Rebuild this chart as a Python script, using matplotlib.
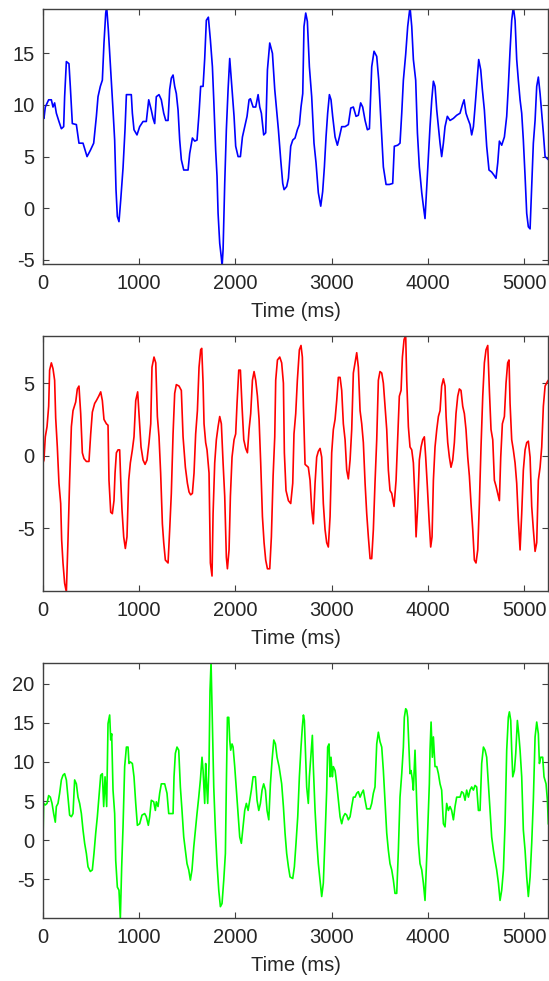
import matplotlib
matplotlib.use('Agg')
import matplotlib.pyplot as plt
import numpy as np

# --- data (time in ms, signal value) ---
blue_t = [0, 10, 24, 59, 87, 104, 121, 139, 166, 191, 215, 225, 243, 270, 284, 305,
          347, 374, 416, 458, 492, 527, 555, 572, 596, 617, 634, 652, 662, 679, 704,
          728, 745, 759, 773, 790, 808, 832, 853, 867, 894, 918, 929, 946, 977, 1005,
          1040, 1074, 1099, 1126, 1144, 1161, 1178, 1206, 1230, 1255, 1276, 1300, 1317,
          1334, 1352, 1369, 1386, 1404, 1421, 1438, 1463, 1508, 1525, 1553, 1577, 1601,
          1622, 1639, 1664, 1681, 1698, 1719, 1740, 1761, 1775, 1795, 1809, 1820, 1837,
          1854, 1862, 1872, 1889, 1906, 1924, 1941, 1965, 1986, 2003, 2028, 2052, 2073,
          2097, 2121, 2142, 2156, 2184, 2211, 2236, 2253, 2270, 2294, 2315, 2333, 2357,
          2385, 2409, 2447,
          2471, 2492, 2506, 2533, 2551, 2575, 2596, 2620, 2644, 2665, 2682, 2700, 2713,
          2731, 2748, 2769, 2793, 2817, 2838, 2862, 2887, 2907, 2925, 2942, 2959, 2977,
          2994, 3011, 3036, 3060, 3081, 3105, 3140, 3174, 3199, 3226, 3254, 3278, 3302,
          3323, 3348, 3372, 3393, 3417, 3441, 3469, 3490, 3514, 3538, 3566, 3600, 3635,
          3652, 3687, 3711, 3729, 3746, 3770, 3791, 3815, 3833, 3850, 3874, 3892, 3912,
          3937, 3954, 3971, 3989, 4006, 4023, 4041, 4058, 4075, 4093, 4110, 4127, 4144,
          4162, 4179, 4203, 4231, 4266, 4300, 4335, 4359, 4377, 4397, 4415, 4439, 4456,
          4474, 4491, 4508, 4529, 4550, 4567, 4588, 4612, 4636, 4664, 4688, 4709, 4727,
          4744, 4768, 4796, 4820, 4837, 4855, 4872, 4889, 4907, 4924, 4941, 4959, 4976,
          4993, 5011, 5028, 5045, 5063, 5080, 5097, 5115, 5132, 5149, 5167, 5184, 5201,
          5219, 5253]
blue_v = [9.2, 8.7, 9.8, 10.5, 10.5, 9.8, 10.2, 9.2, 8.4, 7.7, 7.9, 10.8, 14.2, 14.0, 11.8,
          8.2, 8.1, 6.3, 6.3, 5.0, 5.6, 6.3, 8.9, 10.8, 11.8, 12.4, 16.0, 18.9, 19.5, 17.3,
          13.4, 9.5, 6.6, 1.8, -0.8, -1.3, 0.8, 3.9, 7.7, 11.0, 11.0, 11.0, 9.2, 7.6, 7.1,
          7.9, 8.4, 8.4, 10.5, 9.5, 8.7, 8.2, 10.8, 11.0, 10.5, 9.2, 8.5, 8.5, 11.5, 12.6,
          12.9, 11.8, 11.1, 9.5, 6.6, 4.7, 3.7, 3.7, 5.3, 6.8, 6.5, 6.6, 9.2, 11.8, 11.8,
          14.5, 18.2, 18.5, 16.3, 13.7, 10.5, 5.6, 3.1, -0.5, -3.4, -4.8, -5.6, -4.0, 2.4,
          7.6, 11.5, 14.5, 11.5, 8.9, 6.0, 5.0, 5.0, 6.9, 7.9, 8.9, 10.5, 10.6, 9.8, 9.8,
          11.0, 9.8, 9.2, 7.1, 7.3, 13.4, 16.0, 15.0, 11.5, 7.6,
          4.7, 2.4, 1.8, 2.1, 2.9, 6.0, 6.6, 6.8, 7.6, 8.1, 9.8, 11.1, 17.6, 18.9, 18.1,
          13.7, 10.8, 6.3, 4.4, 1.5, 0.2, 1.6, 4.0, 6.9, 9.2, 11.0, 10.5, 8.9, 6.9, 6.1,
          6.9, 7.9, 7.9, 8.1, 9.7, 9.8, 8.9, 9.0, 10.2, 9.8, 8.5, 7.6, 7.7, 13.7, 15.2,
          14.7, 12.4, 8.2, 4.0, 2.3, 2.3, 2.4, 6.0, 6.1, 6.3, 9.2, 12.4, 14.9, 17.6, 19.5,
          17.6, 14.4, 12.4, 7.3, 4.0, 1.5, 0.2, -1.0, 2.1, 5.0, 7.9, 10.5, 12.3, 11.8, 9.5,
          7.9, 6.3, 5.0, 6.3, 7.9, 8.9, 8.5, 8.7, 9.0, 9.2, 10.0, 10.5, 9.2, 8.7, 8.1, 7.1,
          7.9, 9.8, 11.9, 14.4, 13.4, 11.5, 9.5, 6.0, 3.7, 3.5, 3.2, 2.9, 4.4, 6.5, 6.1,
          6.9, 8.9, 11.8, 15.3, 18.2, 19.5, 18.2, 14.4, 12.4, 10.5, 9.2, 6.6, 3.1, -0.5,
          -1.8, -2.0, 2.1, 6.3, 8.5, 11.8, 12.7, 11.1, 9.2, 7.3, 5.0, 4.7]

red_t = [0, 10, 24, 42, 59, 69, 87, 104, 121, 132, 149, 166, 184, 194, 208, 225, 243,
         260, 277, 295, 312, 340, 357, 374, 392, 409, 426, 451, 478, 496, 513, 537, 555,
         579, 600, 617, 634, 659, 676, 686, 704, 721, 738, 749, 763, 780, 797, 808, 821,
         839, 856, 873, 891, 908, 929, 946, 964, 984, 1002, 1019, 1040, 1061, 1081, 1102,
         1120, 1133, 1154, 1172, 1189, 1206, 1223, 1241, 1255, 1272, 1300, 1317, 1334,
         1352, 1369, 1386, 1414, 1438, 1456, 1480, 1501, 1518, 1535, 1553, 1570, 1587,
         1605, 1622, 1639, 1650, 1664, 1674, 1691, 1705, 1726, 1740, 1757, 1768, 1785,
         1802, 1820, 1837, 1854, 1872, 1889, 1906, 1917, 1934, 1948, 1965, 1986, 2003,
         2017, 2035, 2052, 2069, 2087, 2107, 2125, 2142, 2159, 2177, 2194, 2211, 2229,
         2246, 2263, 2281, 2298, 2315, 2333, 2357, 2374, 2392, 2409, 2419, 2437, 2461,
         2481, 2499, 2509, 2526, 2551, 2575, 2596, 2609, 2627, 2644, 2665, 2682, 2696,
         2707, 2724, 2758, 2776, 2793, 2810, 2828, 2845, 2862, 2880, 2897, 2914, 2932,
         2949, 2966, 2984, 3001, 3018, 3036, 3053, 3070, 3088, 3105, 3122, 3140, 3157,
         3174, 3192, 3209, 3226, 3244, 3261, 3278, 3296, 3313, 3330, 3348, 3365, 3382,
         3400, 3417, 3434, 3451, 3469, 3486, 3503, 3521, 3538, 3555, 3573, 3590, 3607,
         3625, 3649, 3670, 3687, 3704, 3722, 3736, 3753, 3770, 3781, 3798, 3815, 3833,
         3850, 3867, 3878, 3895, 3912, 3930, 3947, 3964, 3978, 3995, 4013, 4030, 4044,
         4058, 4075, 4093, 4110, 4127, 4144, 4162, 4179, 4190, 4207, 4224, 4241, 4259,
         4276, 4293, 4311, 4328, 4345, 4363, 4380, 4397, 4415, 4432, 4449, 4467, 4484,
         4501, 4519, 4536, 4553, 4571, 4588, 4605, 4623, 4640, 4657, 4675, 4692, 4709,
         4727, 4744, 4758, 4775, 4796, 4813, 4830, 4844, 4855, 4872, 4889, 4907, 4924,
         4941, 4959, 4976, 4993, 5011, 5028, 5045, 5063, 5080, 5097, 5115, 5132, 5149,
         5167, 5184, 5201, 5219, 5243, 5253]
red_v = [-0.5, -0.3, 1.3, 2.0, 3.4, 5.9, 6.4, 6.0, 5.2, 2.6, 0.6, -1.9, -3.3, -5.8, -7.4,
         -8.8, -9.4, -5.8, -1.7, 2.0, 3.1, 3.7, 4.6, 4.8, 2.9, 0.2, -0.2, -0.4, -0.4, 1.5,
         3.0, 3.6, 3.8, 4.1, 4.4, 3.8, 2.5, 2.2, 2.1, -1.7, -3.9, -4.0, -3.1, -1.2, 0.2,
         0.4, 0.4, -1.7, -3.7, -5.6, -6.4, -5.6, -1.7, -0.5, 0.4, 1.3, 3.8, 4.4, 2.5, 0.6,
         -0.3, -0.6, -0.3, 0.9, 2.2, 6.1, 6.8, 6.4, 2.7, 1.3, -1.2, -4.7, -6.0, -7.2, -7.4,
         -5.1, -2.6, 1.5, 4.3, 4.9, 4.8, 4.5, 1.3, -0.8, -1.9, -2.5, -2.7, -2.6, -1.2, 1.5,
         3.1, 6.1, 7.3, 7.4, 5.0, 2.2, 0.9, 0.4, -1.2, -7.4, -8.3, -4.0, -0.5, 1.1, 2.0,
         2.7, 2.2, -0.5, -2.8, -7.0, -7.8, -6.5, -2.8, -0.1, 1.1, 1.5, 3.6, 5.9, 5.9, 3.4,
         1.1, 0.5, 0.2, 1.8, 2.9, 5.2, 5.8, 5.2, 4.1, 2.5, -0.5, -4.2, -6.0, -7.2, -7.8,
         -7.8, -5.6, -1.4, 1.3, 5.2, 6.6, 6.8,
         6.4, 5.0, 0.2, -2.4, -3.1, -3.3, -1.9, 1.5, 2.9, 5.2, 7.3, 7.6, 6.8, 3.4, -0.6,
         -0.8, -1.7, -3.7, -4.7, -1.9, -0.1, 0.3, 0.5, -0.1, -3.3, -5.1, -6.0, -6.3, -4.2,
         0.2, 1.8, 2.5, 3.8, 5.4, 5.4, 4.5, 2.2, 1.1, -1.0, -1.6, -0.3, 1.8, 5.7, 6.4, 7.1,
         6.1, 3.1, 2.2, 0.9, -1.9, -4.0, -5.6, -7.1, -7.1, -5.1, -1.9, 1.1, 5.2, 5.8, 5.7,
         5.0, 3.4, 1.8, -1.0, -2.4, -2.6, -3.5, -1.7, 1.3, 4.1, 4.5, 6.8, 8.0, 8.3, 5.2,
         2.0, 0.6, 0.4, -0.5, -3.1, -5.6, -3.5, -0.3, 0.6, 1.1, 1.3, -0.1, -2.1, -4.4,
         -6.3, -5.6, -1.7, 0.6, 1.8, 2.7, 3.1, 4.8, 5.3, 4.8, 2.7, 0.9, -0.1, -0.8, -0.3,
         0.9, 2.9, 4.1, 4.6, 4.5, 3.4, 2.9, 1.8, -0.1, -1.4, -3.3, -5.1, -7.2, -7.4, -6.5,
         -3.3, 0.6, 4.1, 6.4, 7.3, 7.6, 4.5, 1.8, 1.1, -1.7, -2.1, -2.6, -3.1, -0.1, 2.2,
         2.7, 5.0, 6.4, 6.6, 3.6, 1.1, 0.4, -0.5, -1.9, -4.4, -6.5, -4.0, -1.0, 0.4, 0.9,
         1.0, -0.1, -3.5, -5.1, -6.6, -6.0, -1.7, -0.8, 0.6, 3.4, 4.8, 5.1, 5.2]

green_t = [0, 7, 24, 42, 59, 76, 94, 111, 128, 139, 156, 173, 191, 208, 225, 243, 260,
           277, 295, 312, 329, 347, 364, 381, 399, 416, 433, 451, 468, 492, 513, 530,
           548, 565, 582, 600, 617, 631, 645, 662, 676, 693, 704, 714, 728, 745, 756,
           773, 790, 804, 818, 832, 849, 867, 884, 894, 908, 929, 946, 964, 981, 1005,
           1029, 1057, 1074, 1095, 1109, 1126, 1151, 1168, 1178, 1196, 1213, 1230, 1265,
           1289, 1307, 1334, 1352, 1362, 1376, 1393, 1411, 1428, 1445, 1463, 1480, 1497,
           1515, 1532, 1549, 1567, 1584, 1601, 1619, 1636, 1653, 1664, 1681, 1691, 1698,
           1712, 1726, 1736, 1747, 1761, 1775, 1792, 1809, 1827, 1844, 1861, 1879, 1896,
           1906, 1917, 1931, 1941, 1951, 1965, 1976, 1993, 2010, 2028, 2045, 2062, 2080,
           2097, 2114, 2132, 2149, 2166, 2184, 2208, 2225, 2243, 2260, 2277, 2294, 2312,
           2329, 2347, 2364, 2381, 2399, 2416, 2433, 2454,
           2481, 2499, 2516, 2533, 2551, 2568, 2596, 2613, 2630, 2648, 2665, 2682, 2696,
           2707, 2717, 2731, 2741, 2758, 2769, 2786, 2800, 2810, 2828, 2845, 2862, 2880,
           2897, 2914, 2932, 2949, 2959, 2973, 2984, 2994, 3008, 3018, 3036, 3053, 3070,
           3088, 3105, 3122, 3140, 3157, 3174, 3192, 3209, 3226, 3244, 3261, 3278, 3296,
           3313, 3330, 3348, 3365, 3400, 3417, 3434, 3451, 3469, 3486, 3503, 3521, 3538,
           3555, 3573, 3590, 3607, 3625, 3642, 3659, 3677, 3694, 3711, 3729, 3746, 3756,
           3770, 3781, 3791, 3805, 3815, 3826, 3840, 3850, 3867, 3885, 3902, 3919, 3937,
           3954, 3971, 3989, 4006, 4016, 4023, 4034, 4047, 4058, 4075, 4093, 4110, 4127,
           4144, 4162, 4179, 4196, 4214, 4231, 4248, 4266, 4283, 4300, 4318, 4335, 4352,
           4370, 4387, 4404, 4422, 4439, 4456, 4474, 4491, 4508, 4526, 4543, 4560, 4578,
           4595, 4612, 4630, 4647, 4664, 4682, 4699, 4716, 4734, 4751, 4768, 4786, 4803,
           4820, 4837, 4848, 4862, 4872, 4883, 4900, 4914, 4931, 4945, 4959, 4976, 4993,
           5011, 5028, 5045, 5063, 5080, 5097, 5115, 5132, 5149, 5160, 5174, 5194, 5208,
           5229, 5243, 5253]
green_v = [0.0, 4.7, 4.5, 4.7, 5.7, 5.5, 4.7, 3.4, 2.3, 4.3, 4.7, 6.0, 7.7, 8.3, 8.5, 7.7,
           5.5, 3.2, 3.0, 3.4, 7.7, 7.2, 5.5, 4.7, 3.4, 1.3, -0.4, -1.7, -3.4, -4.0, -3.8,
           -1.7, 0.9, 3.0, 5.5, 8.3, 8.5, 4.3, 8.1, 4.3, 14.9, 16.0, 12.8, 13.6, 6.4, 3.4,
           -2.6, -6.0, -6.4, -10.0, -3.4, 1.7, 9.4, 11.9, 11.9, 9.8, 10.0, 9.8, 8.1, 4.7,
           1.9, 2.1, 3.2, 3.4, 3.0, 1.9, 3.0, 5.1, 4.9, 3.8, 4.9, 4.3, 6.0, 7.2, 7.2, 6.0,
           3.4, 3.4, 3.4, 8.1, 11.1, 11.9, 11.5, 6.8, 3.8, 0.4, -1.3, -3.0, -3.8, -5.1,
           -3.8, -0.9, 1.3, 3.4, 5.5, 7.7, 10.6, 8.9, 4.7, 9.8, 7.7, 4.7, 9.8, 19.1, 22.8,
           14.9, 6.8, 1.3, -3.0, -6.4, -8.5, -8.1, -5.1, -1.7, 7.2, 15.7, 15.7, 12.8, 11.5,
           12.3, 11.9, 9.4, 6.4, 3.4, 0.4, -0.4, 1.7, 3.8, 4.7, 3.8, 5.1, 6.4, 8.1, 8.1,
           5.1, 3.8, 4.7, 6.4, 7.2, 6.4, 3.8, 2.6, 7.2, 10.2, 12.8, 12.3, 10.6, 9.4,
           7.2, 4.3, 0.9, -1.7, -3.4, -4.7, -4.9, -3.4, -0.4, 3.0, 8.1, 11.9, 14.5, 16.0,
           15.3, 10.2, 6.8, 4.7, 8.1, 11.1, 13.4, 9.4, 3.8, 0.0, -3.0, -5.1, -7.2, -5.5,
           0.4, 6.4, 11.9, 12.3, 8.1, 10.6, 8.1, 9.4, 8.9, 7.2, 5.1, 3.0, 2.1, 3.0, 3.4,
           3.2, 2.6, 3.0, 4.3, 5.5, 5.5, 6.0, 6.2, 5.5, 6.0, 6.4, 5.1, 4.0, 4.0, 4.7, 6.0,
           6.8, 12.3, 13.8, 12.6, 11.9, 8.9, 5.1, 0.9, -1.3, -3.0, -3.8, -5.1, -6.8, -6.8,
           -1.3, 5.5, 8.5, 11.9, 15.7, 16.8, 16.6, 15.7, 11.5, 8.5, 8.9, 7.7, 6.4, 11.5,
           4.7, -0.4, -3.0, -3.8, -5.5, -7.7, -2.1, 3.8, 7.2, 11.5, 15.1, 10.6, 13.2, 9.4,
           9.4, 8.5, 7.2, 6.4, 2.1, 1.7, 4.7, 3.8, 4.3, 3.8, 2.6, 4.3, 5.5, 5.5, 5.5, 6.2,
           6.0, 5.1, 6.4, 5.5, 6.4, 6.8, 6.4, 7.0, 6.8, 3.8, 3.8, 9.8, 11.9, 11.5, 10.6,
           7.2, 3.8, 0.4, -1.3, -2.6, -3.8, -5.5, -7.7, -6.4, -3.8, 2.1, 11.5, 15.7, 16.4,
           15.3, 11.5, 8.1, 8.9, 11.1, 15.3, 13.6, 11.5, 8.1, 1.3, -1.3, -4.7, -7.2, -4.7,
           -0.4, 5.1, 13.2, 15.1, 13.6, 9.8, 10.6, 10.6, 8.1, 7.2, 5.1, 2.1]

x_ticks = [0, 1000, 2000, 3000, 4000, 5000]
x_max = 5250

panels = [
    (blue_t, blue_v, '#0000ff', (-5.4, 19.3), [-5, 0, 5, 10, 15]),
    (red_t, red_v, '#ff0000', (-9.33, 8.26), [-5, 0, 5]),
    (green_t, green_v, '#00ff00', (-9.95, 22.65), [-5, 0, 5, 10, 15, 20]),
]

plt.rcParams['font.family'] = ['Liberation Sans', 'DejaVu Sans']
plt.rcParams['axes.unicode_minus'] = False

fig = plt.figure(figsize=(5.49, 9.81), dpi=100)
bottoms = [0.7309, 0.3976, 0.0642]

for (t, v, col, ylim, yticks), b in zip(panels, bottoms):
    ax = fig.add_axes([0.0783, b, 0.920, 0.260])
    ax.plot(t, v, color=col, lw=1.2)
    ax.set_xlim(0, x_max)
    ax.set_ylim(*ylim)
    ax.set_xticks(x_ticks)
    ax.set_yticks(yticks)
    ax.tick_params(direction='in', length=4, width=0.8, top=True, right=True,
                   labelsize=14.5, colors='#404040', labelcolor='#262626')
    ax.tick_params(axis='x', pad=7)
    ax.tick_params(axis='y', pad=6)
    for s in ax.spines.values():
        s.set_color('#404040')
        s.set_linewidth(1.0)
    ax.set_xlabel('Time (ms)', fontsize=14.5, color='#262626', labelpad=7)

fig.savefig('out.png', dpi=100)
